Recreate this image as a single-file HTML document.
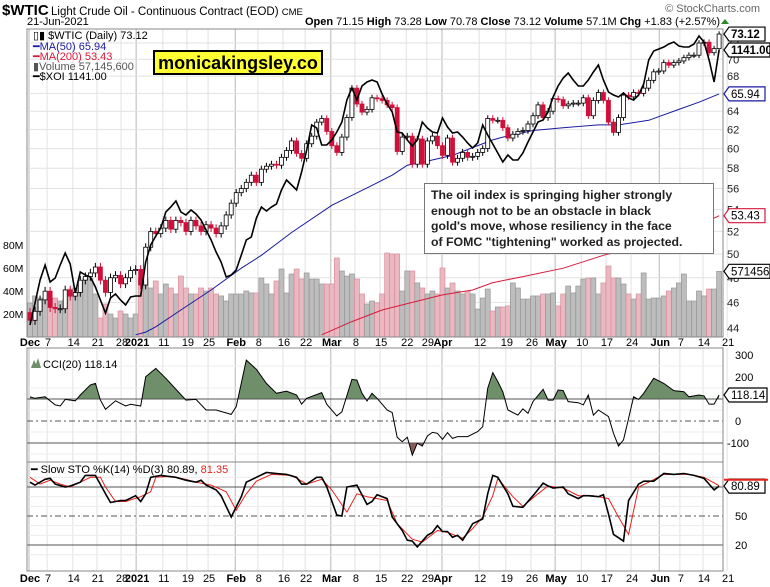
<!DOCTYPE html>
<html><head><meta charset="utf-8"><style>
body{margin:0;background:#fff;}
svg{display:block;font-family:"Liberation Sans",sans-serif;}
</style></head><body>
<svg id="chart" width="770" height="587" viewBox="0 0 770 587" xmlns="http://www.w3.org/2000/svg">
<rect width="770" height="587" fill="#fff"/>
<g>
<text x="2" y="15" font-size="15" font-weight="bold">$WTIC</text>
<text x="51" y="15" font-size="11.5">Light Crude Oil - Continuous Contract (EOD) <tspan font-size="9.5">CME</tspan></text>
<text x="27" y="25" font-size="11">21-Jun-2021</text>
<text x="720" y="25" font-size="11" text-anchor="end"><tspan font-weight="bold">Open</tspan> 71.15  <tspan font-weight="bold">High</tspan> 73.28  <tspan font-weight="bold">Low</tspan> 70.78  <tspan font-weight="bold">Close</tspan> 73.12  <tspan font-weight="bold">Volume</tspan> 57.1M  <tspan font-weight="bold">Chg</tspan> +1.83 (+2.57%)</text>
<path d="M721 24 L725 19 L729 24Z" fill="#2a8a2a"/>
<text x="760" y="12" font-size="11" fill="#666" text-anchor="end">© StockCharts.com</text>
</g>
<g id="grid"></g>
<g id="marks"></g>
<g id="frames"></g>
<g id="labels"></g>
</svg>
<script>
const closes=[44.6,45.3,46.2,46.9,45.6,45.5,45.5,47,46.5,46.8,47.8,48.1,48.4,48.9,47.8,46.8,48,48.2,47.5,48,48.6,48.7,47.4,50.6,52,51.8,52.3,53,52.2,53,52.8,52,53,52.5,52,52.6,52.3,51.8,52.5,53.5,54.6,55.6,56,56.6,57.3,56.6,57.9,58.2,58.4,58.3,59.1,59.8,60.8,59.5,59,60.5,61.3,62.8,63.2,61.8,60.3,59.6,61.2,63.3,66.6,64.8,63.9,64.2,65.5,65.4,65.2,64.7,64.4,59.7,61.2,61.3,58.4,61,58.4,60.8,61.3,60.3,59.3,61.1,58.6,59,59.6,59.1,59.2,59.6,60,63.2,63,63,62.2,61.1,61.5,61.8,61.9,62.6,63.5,64.7,63.3,64,65.4,65.3,64.6,64.8,64.9,64.9,65.5,63.5,65.2,66.1,65.2,62.8,61.7,63.3,65.8,65.6,66.1,66,66.6,67.5,68.5,68.6,69.6,69.3,69.6,69.8,70.2,70.5,70.5,72,72.1,70.8,71.3,73.12];
const volumes=[29.6,35.7,33.9,33,33,33.9,31.3,32.2,41.7,42.6,40,51.3,51.3,37.4,16.5,28.7,20,16.5,22.6,20,16.5,20,51.3,50.4,42.6,48.7,37.4,46.1,42.6,37.4,53,42.6,37.4,37.4,42.6,40,42.6,37.4,35.7,31.3,37.4,37.4,37.4,40,38.3,38.3,51.3,46.1,37.4,48.7,59.1,38.3,54.8,59.1,50.4,55.7,50.4,50.4,46.1,46.1,46.1,68.7,57.4,53,54.8,50.4,37.4,28.7,31.3,29.6,37.4,73,72.2,72.2,40,57.4,57.4,47,42.6,37.4,40,37.4,60,42.6,47,40,37.4,40,37.4,24.3,33.9,41.7,22.6,26.1,26.1,27,47,42.6,33,33,35.7,35.7,37.4,37.4,38.3,27,37.4,44.3,38.3,44.3,50.4,51.3,51.3,37.4,47,61.7,51.3,51.3,46.1,37.4,33,37.4,55.7,33,33.9,33.9,35.7,40,42.6,47,54.8,31.3,31.3,40,35.7,41.7,41.7,57.1];
const xoi=[591,635,681,711,677,685,711,735,713,655,697,691,687,667,641,615,645,653,641,631,647,649,649,717,751,769,785,817,827,839,817,811,821,813,801,781,761,737,717,687,691,701,731,761,767,805,827,819,827,833,861,881,871,861,897,941,991,985,951,951,961,977,997,1041,1065,1041,1069,1077,1081,1077,1053,1033,1017,977,975,961,949,961,997,985,977,975,1005,987,975,977,967,955,945,955,991,971,953,935,917,931,921,921,935,957,977,997,1001,1017,1047,1069,1085,1095,1081,1069,1069,1081,1097,1111,1081,1057,1051,1047,1055,1045,1041,1051,1073,1121,1139,1143,1147,1153,1157,1149,1147,1147,1153,1169,1157,1121,1077,1141];
const ma50Idx=[21,23,25,30,36,42,46,52,60,68,72,75,78,84,88,92,94,100,106,113,117,123,129,133,137];
const ma50Vals=[43.5,43.7,44.1,45.4,47,48.8,49.9,51.9,54.4,56.3,57.3,58.3,58.6,59.3,60.1,60.9,61.2,61.9,62.2,62.5,62.5,63,64.2,65,65.94];
const ma200Idx=[58,64,70,76,82,88,92,98,106,114,122,130,137];
const ma200Vals=[43.5,44.5,45.4,46,46.6,47,47.6,48.1,48.8,49.9,50.8,51.9,53.43];
const cciIdx=[0,1,3,5,6,7,9,10,12,13,14,15,17,19,20,22,23,25,27,31,33,35,37,40,41,43,45,47,49,51,53,54,55,58,59,61,62,64,65,66,67,68,69,71,72,73,74,75,76,77,78,79,80,81,82,83,84,85,87,89,90,91,92,93,94,95,97,98,99,100,102,103,104,105,106,107,109,110,111,112,113,115,116,117,118,119,120,121,122,124,126,128,130,131,132,133,134,135,136,137];
const cciVals=[110,103,110,73,68,98,92,118,164,171,95,53,92,68,76,68,201,239,194,95,98,50,50,30,65,277,235,171,126,136,118,77,103,129,76,23,42,189,186,126,91,126,103,50,38,-74,-94,-74,-155,-101,-114,-68,-52,-56,-83,-53,-79,-71,-71,-48,-26,148,220,179,133,50,27,55,35,88,144,95,95,141,138,88,83,73,118,27,50,20,-56,-114,-86,12,110,98,126,194,171,138,133,110,114,118,114,77,77,118.14];
const kIdx=[0,1,3,4,5,7,8,10,11,13,15,16,18,19,21,22,23,24,26,29,31,33,34,35,37,38,40,42,43,45,47,49,51,53,54,55,57,58,59,61,62,63,65,67,68,69,71,72,74,75,76,77,79,80,81,82,83,84,85,86,87,88,90,91,92,93,95,96,98,100,102,103,104,106,107,109,110,111,113,114,115,116,118,119,121,122,124,126,128,130,132,134,135,136,137];
const kVals=[85,82,88,89,83,80,81,85,92,92,73,64,66,66,71,65,73,90,92,90,87,85,87,82,77,71,49,70,85,90,95,94,93,90,83,83,90,90,80,51,50,80,82,62,65,72,68,49,35,25,24,18,30,33,40,34,34,28,30,25,33,42,47,73,92,90,73,60,59,71,84,81,79,80,73,68,71,71,70,72,52,31,24,66,83,86,86,94,93,94,92,89,83,77,80.89];
const dIdx=[0,2,4,6,8,10,12,14,15,17,19,22,24,25,28,31,33,36,39,41,43,45,48,52,55,58,60,63,65,67,69,71,73,76,78,81,83,86,88,90,92,93,96,98,101,103,106,109,112,115,117,119,121,123,126,131,134,137];
const dVals=[90,83,87,83,80,85,90,90,80,65,65,70,75,90,91,88,85,82,75,56,73,86,93,92,83,88,77,54,73,70,68,66,42,26,23,35,33,27,37,49,71,89,70,60,73,81,79,71,71,68,49,31,80,85,93,93,90,81.35];
const tickLabels=["Dec","7","14","21","28","2021","11","19","25","Feb","8","16","22","Mar","8","15","22","29","Apr","12","19","26","May","10","17","24","Jun","7","14","21"];
const tickIdx=[0,3.6,8.7,13.5,18.3,21.3,26.6,31.4,35.6,41,45.5,50.5,54.9,60,64.8,69.8,75,79.1,82.1,89.5,94.8,99.8,104.6,109.8,114.7,119.7,125.3,129.4,134,138.8];
const monthTicks=["Dec","2021","Feb","Mar","Apr","May","Jun"];
const priceTicks=[44,46,48,50,52,54,56,58,60,62,64,66,68,70,72];
const volTicks=[20,40,60,80];
const cciTicks=[300,200,0,-100];
const stoTicks=[50,20];

const NS="http://www.w3.org/2000/svg";
const L=27,R=723;
const MT=29,MB=337,CT=348,CB=462,ST=462,SB=571;
const xOf=i=>30+5.03*i;
const yP=p=>43+579*Math.log(72/p);
const yV=v=>337-1.15*v;
const yX=v=>50+(1141-v)/2;
const yC=c=>421-0.22*c;
const yS=s=>545-(s-20)*0.9667;
function mk(tag,attrs,parent){const e=document.createElementNS(NS,tag);for(const k in attrs)e.setAttribute(k,attrs[k]);parent.appendChild(e);return e;}
const grid=document.getElementById('grid'),marks=document.getElementById('marks'),frames=document.getElementById('frames'),labels=document.getElementById('labels');

// panel backgrounds & grids
[[MT,MB],[CT,CB],[ST,SB]].forEach(([t,b],pi)=>{
  tickIdx.forEach((ti,k)=>{
    const x=xOf(ti)-1;
    const isM=monthTicks.includes(tickLabels[k]);
    const ln=mk('line',{x1:x,x2:x,y1:t,y2:b,stroke:isM?'#b8b8b8':'#e2e2e2','stroke-width':1},grid);
    
    
  });
});
priceTicks.forEach(p=>{
  const y=yP(p);
  const ln=mk('line',{x1:L,x2:R,y1:y,y2:y,stroke:'#e2e2e2'},grid);
  
  
  const t=mk('text',{x:727,y:y+4,'font-size':11,fill:'#222'},labels);
  t.textContent=p;
  
  
});
volTicks.forEach(v=>{
  const t=mk('text',{x:3,y:yV(v)+4,'font-size':10.5},labels);
  t.textContent=v+'M';
  
  
});
[250,150,50,-50,-150].forEach(c=>{const ln=mk('line',{x1:L,x2:R,y1:yC(c),y2:yC(c),stroke:'#ececec'},grid);});
[10,30,40,60,70,90].forEach(s=>{const ln=mk('line',{x1:L,x2:R,y1:yS(s),y2:yS(s),stroke:'#ececec'},grid);});

// volume bars
volumes.forEach((v,i)=>{
  const down=i>0&&closes[i]<closes[i-1];
  const r=mk('rect',{x:xOf(i)-2.5,y:yV(v),width:5,height:337-yV(v),fill:down?'#eab8c0':'#bdbdbd',stroke:down?'#d88e9c':'#979797','stroke-width':0.7},marks);
  
  
});
// moving averages
function line(idx,vals,yf,color,w,name){
  const d=idx.map((ii,k)=>(k?'L':'M')+xOf(ii).toFixed(1)+' '+yf(vals[k]).toFixed(1)).join(' ');
  const p=mk('path',{d:d,fill:'none',stroke:color,'stroke-width':w},marks);
  
  
  return d;
}
line(ma200Idx,ma200Vals,yP,'#d8193c',1,'ma200-line');
line(ma50Idx,ma50Vals,yP,'#1a1aa0',1,'ma50-line');
// candles
closes.forEach((c,i)=>{
  const o=i?closes[i-1]:45.2;
  const hi=Math.max(o,c)+0.35,lo=Math.min(o,c)-0.35;
  const x=xOf(i);
  const up=c>=o;
  const col=up?'#000':'#d0103a';
  const w=mk('line',{x1:x,x2:x,y1:yP(hi),y2:yP(lo),stroke:col,'stroke-width':1},marks);
  
  
  const yt=yP(Math.max(o,c)),yb=yP(Math.min(o,c));
  const b=mk('rect',{x:x-2,y:yt,width:4,height:Math.max(1,yb-yt),fill:up?'#fff':'#d0103a',stroke:col,'stroke-width':0.8},marks);
  
  
});
// XOI
line(xoi.map((v,i)=>i),xoi,yX,'#000',1.6,'xoi-line');

// CCI
const cciD=cciIdx.map((ii,k)=>(k?'L':'M')+xOf(ii).toFixed(1)+' '+yC(cciVals[k]).toFixed(1)).join(' ');
const defs=mk('defs',{},document.getElementById('chart'));
mk('rect',{x:L,y:CT,width:R-L,height:yC(100)-CT},mk('clipPath',{id:'cAbove'},defs));
mk('rect',{x:L,y:yC(-100),width:R-L,height:CB-yC(-100)},mk('clipPath',{id:'cBelow'},defs));
const x0=xOf(cciIdx[0]),x1=xOf(cciIdx[cciIdx.length-1]);
const fa=mk('path',{d:cciD+` L${x1} ${yC(100)} L${x0} ${yC(100)} Z`,fill:'#6f8f6a','clip-path':'url(#cAbove)'},marks);


const fb=mk('path',{d:cciD+` L${x1} ${yC(-100)} L${x0} ${yC(-100)} Z`,fill:'#8a5c5c','clip-path':'url(#cBelow)'},marks);


[[100,'none'],[-100,'none'],[0,'6 3 2 3']].forEach(([c,da])=>{
  const ln=mk('line',{x1:L,x2:R,y1:yC(c),y2:yC(c),stroke:'#555','stroke-width':1,'stroke-dasharray':da},marks);
  
  
});
line(cciIdx,cciVals,yC,'#000',1,'cci-line');
cciTicks.forEach(c=>{
  const t=mk('text',{x:c<0?727:735,y:yC(c)+4,'font-size':11},labels);
  t.textContent=c;
  
  
});
// STO
[[80,'none'],[20,'none'],[50,'6 3 2 3']].forEach(([s,da])=>{
  const ln=mk('line',{x1:L,x2:R,y1:yS(s),y2:yS(s),stroke:'#555','stroke-width':1,'stroke-dasharray':da},marks);
  
  
});
line(dIdx,dVals,yS,'#e8201c',1,'sto-d-line');
line(kIdx,kVals,yS,'#000',1.6,'sto-k-line');
stoTicks.forEach(s=>{
  const t=mk('text',{x:735,y:yS(s)+4,'font-size':11},labels);
  t.textContent=s;
  
  
});
// frames
[[MT,MB],[CT,CB],[ST,SB]].forEach(([t,b])=>{
  const r=mk('rect',{x:L,y:t,width:R-L,height:b-t,fill:'none',stroke:'#888','stroke-width':1},frames);
  
  
});
// date labels
[342,578].forEach(yy=>{
  tickLabels.forEach((lab,k)=>{
    const bold=monthTicks.includes(lab);
    const t=mk('text',{x:xOf(tickIdx[k])+(bold?0:0),y:yy+4,'font-size':11,'text-anchor':'middle','font-weight':bold?'bold':'normal'},labels);
    t.textContent=lab;
    
    
  });
});
// value tags
function tag(y,txt,color,bold,name,wd){
  const g=mk('g',{},labels);
  
  
  mk('path',{d:`M724 ${y} L729 ${y-7} L${729+wd} ${y-7} L${729+wd} ${y+7} L729 ${y+7} Z`,fill:'#fff',stroke:color,'stroke-width':1.2},g);
  const t=mk('text',{x:731,y:y+4,'font-size':11.5,'font-weight':bold?'bold':'normal'},g);
  t.textContent=txt;
}
tag(yP(73.12),'73.12','#000',true,'last-price-tag',36);
tag(yX(1141),'1141.00','#000',true,'xoi-value-tag',41);
tag(yP(65.94),'65.94','#1a1aa0',false,'ma50-value-tag',36);
tag(yP(53.43),'53.43','#d8193c',false,'ma200-value-tag',36);
tag(yV(57.1),'5714560','#000',false,'volume-value-tag',41);
tag(yC(118.14),'118.14','#000',false,'cci-value-tag',38);
tag(yS(80.89),'80.89','#000',false,'sto-value-tag',36);
const rm=mk('line',{x1:724,x2:768,y1:yS(81.35)-6,y2:yS(81.35)-6,stroke:'#e8201c','stroke-width':2},labels);


</script>
<svg x="0" y="0" width="770" height="587" style="position:absolute;left:0;top:0">
<g font-family="Liberation Sans, sans-serif" font-size="11">
<text x="33" y="39">▯▮ $WTIC (Daily) 73.12</text>
<text x="33" y="50" fill="#1a1aa0">━MA(50) 65.94</text>
<text x="33" y="60" fill="#d8193c">━MA(200) 53.43</text>
<text x="33" y="70" fill="#555">▮Volume 57,145,600</text>
<text x="33" y="80">━$XOI 1141.00</text>
</g>
<rect x="154" y="51" width="168" height="23" fill="#ffff33" stroke="#000" stroke-width="2"/>
<text x="238" y="69" font-family="Liberation Sans, sans-serif" font-size="18" font-weight="bold" text-anchor="middle">monicakingsley.co</text>
<rect x="424.5" y="183.5" width="289" height="70" fill="#fff" stroke="#777"/>
<g font-family="Liberation Sans, sans-serif" font-size="12.3" font-weight="bold" fill="#222">
<text x="431" y="199">The oil index is springing higher strongly</text>
<text x="431" y="215">enough not to be an obstacle in black</text>
<text x="431" y="230">gold's move, whose resiliency in the face</text>
<text x="431" y="246">of FOMC "tightening" worked as projected.</text>
</g>
<path d="M31 368 L34 360 L36 364 L38 358 L41 368Z" fill="#6f8f6a"/>
<text x="43" y="368" font-family="Liberation Sans, sans-serif" font-size="11">CCI(20) 118.14</text>
<text x="31" y="473" font-family="Liberation Sans, sans-serif" font-size="11">━ Slow STO %K(14) %D(3) 80.89, <tspan fill="#e8201c">81.35</tspan></text>
</svg>
</body></html>
